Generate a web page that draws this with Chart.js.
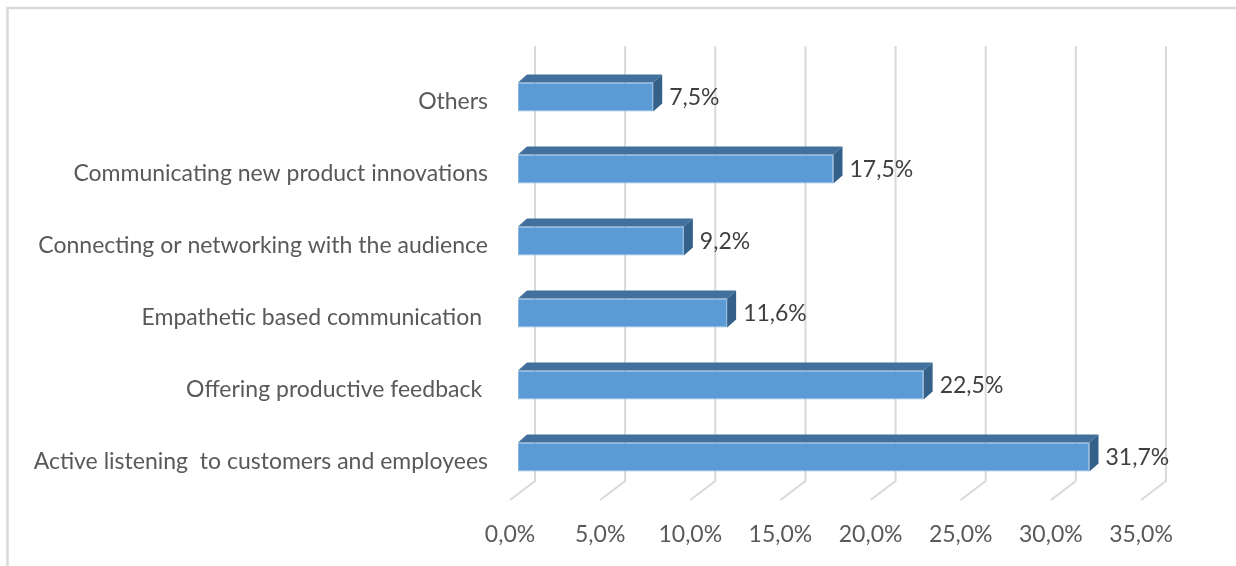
<!DOCTYPE html>
<html><head><meta charset="utf-8">
<script src="https://cdn.jsdelivr.net/npm/chart.js@4.4.0/dist/chart.umd.min.js"></script>
<style>html,body{margin:0;padding:0;background:#fff;overflow:hidden}</style>
</head><body>
<canvas id="c" width="1236" height="566"></canvas>
<script>
const categories = [
  'Others',
  'Communicating new product innovations',
  'Connecting or networking with the audience',
  'Empathetic based communication ',
  'Offering productive feedback ',
  'Active listening  to customers and employees'
];
const values = [7.5, 17.5, 9.2, 11.6, 22.5, 31.7];
const valueLabels = ['7,5%', '17,5%', '9,2%', '11,6%', '22,5%', '31,7%'];
const tickLabels = ['0,0%', '5,0%', '10,0%', '15,0%', '20,0%', '25,0%', '30,0%', '35,0%'];

const FONT = 'Lato';
const FSIZE = 23;
const BAR_DX = 9, BAR_DY = -8;

const deco = {
  id: 'deco',
  beforeDraw(chart) {
    const ctx = chart.ctx;
    ctx.save();
    ctx.fillStyle = '#ffffff';
    ctx.fillRect(0, 0, chart.width, chart.height);
    ctx.strokeStyle = '#D9D9D9';
    ctx.lineWidth = 2.5;
    ctx.strokeRect(7.5, 8, chart.width + 20, chart.height + 20);
    ctx.restore();
  },
  beforeDatasetsDraw(chart) {
    const ctx = chart.ctx, xs = chart.scales.x, a = chart.chartArea;
    ctx.save();
    ctx.strokeStyle = '#D9D9D9';
    ctx.lineWidth = 2;
    xs.ticks.forEach(t => {
      const px = xs.getPixelForValue(t.value);
      ctx.beginPath();
      ctx.moveTo(px + 17, a.top - 15);
      ctx.lineTo(px + 17, a.bottom - 12);
      ctx.lineTo(px - 8, a.bottom + 7);
      ctx.stroke();
    });
    ctx.restore();
  },
  afterDatasetsDraw(chart) {
    const ctx = chart.ctx;
    const meta = chart.getDatasetMeta(0);
    ctx.save();
    meta.data.forEach((bar, i) => {
      const h = bar.height, top = bar.y - h / 2, bot = bar.y + h / 2;
      const x0 = bar.base, x1 = bar.x;
      ctx.fillStyle = '#41719C';
      ctx.beginPath();
      ctx.moveTo(x0, top);
      ctx.lineTo(x0 + BAR_DX, top + BAR_DY);
      ctx.lineTo(x1 + BAR_DX, top + BAR_DY);
      ctx.lineTo(x1, top);
      ctx.closePath();
      ctx.fill();
      ctx.fillStyle = '#35608A';
      ctx.beginPath();
      ctx.moveTo(x1, top);
      ctx.lineTo(x1 + BAR_DX, top + BAR_DY);
      ctx.lineTo(x1 + BAR_DX, bot + BAR_DY);
      ctx.lineTo(x1, bot);
      ctx.closePath();
      ctx.fill();
      ctx.fillStyle = '#404040';
      ctx.font = FSIZE + 'px ' + FONT;
      ctx.textAlign = 'left';
      ctx.textBaseline = 'middle';
      ctx.fillText(valueLabels[i], x1 + BAR_DX + 7, bar.y + 1);
    });
    ctx.restore();
  }
};

new Chart(document.getElementById('c'), {
  type: 'bar',
  data: {
    labels: categories,
    datasets: [{
      data: values,
      backgroundColor: '#5B9BD5',
      borderColor: '#8DB8E2',
      borderWidth: 1,
      borderSkipped: false,
      categoryPercentage: 1,
      barPercentage: 0.4
    }]
  },
  options: {
    indexAxis: 'y',
    responsive: false,
    animation: false,
    devicePixelRatio: 1,
    layout: { padding: { left: 0, top: 61, right: 87, bottom: 13 } },
    plugins: { legend: { display: false }, tooltip: { enabled: false } },
    scales: {
      x: {
        min: 0, max: 35,
        grid: { display: false, drawTicks: false },
        border: { display: false },
        afterFit(s) { s.height = 60; },
        ticks: {
          stepSize: 5,
          padding: 28,
          labelOffset: -8,
          color: '#595959',
          font: { family: FONT, size: FSIZE },
          callback: (v, i) => tickLabels[i]
        }
      },
      y: {
        grid: { display: false, drawTicks: false },
        border: { display: false },
        afterFit(s) { s.width = 518; },
        ticks: {
          padding: 30,
          labelOffset: 5,
          color: '#595959',
          font: { family: FONT, size: FSIZE }
        }
      }
    }
  },
  plugins: [deco]
});
</script>
</body></html>
